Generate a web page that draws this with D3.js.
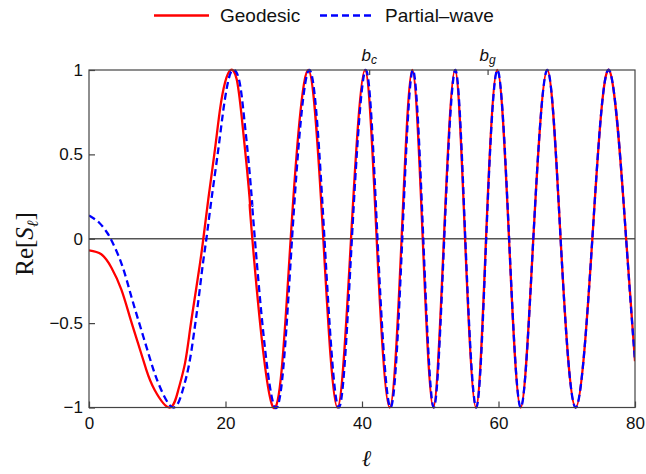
<!DOCTYPE html>
<html><head><meta charset="utf-8">
<script src="https://cdn.jsdelivr.net/npm/d3@7"></script>
<style>body{margin:0;background:#fff}</style>
</head><body>
<svg id="c" width="646" height="474"></svg>
<script>
// Geodesic (red): ℓ and Re[S_ℓ]
const geoL = [0,1.8,3.27,4.73,5.96,7.18,8.4,9.62,11.8,13.09,14.07,14.8,15.53,16.27,16.75,17.48,18.46,19.2,19.93,20.76,21.64,22.36,23.1,23.6,23.93,27.0,29.55,32.13,34.33,36.4,38.39,40.44,42.15,44.05,45.8,47.37,48.9,50.45,52.0,53.63,55.1,56.7,58.17,59.82,61.54,63.25,65.1,67.15,69.1,71.3,73.75,76.2,78.7,80];
const geoV = [-0.069,-0.092,-0.17,-0.3,-0.46,-0.619,-0.777,-0.896,-1,-0.895,-0.737,-0.539,-0.342,-0.144,0,0.235,0.531,0.768,0.926,1,0.945,0.728,0.433,0.196,0,-1,0,1,0,-1,0,1,0,-1,0,1,0,-1,0,1,0,-1,0,1,0,-1,0,1,0,-1,0,1,0,-0.726];
// Partial-wave (blue dashed)
const pwL = [0,1.5,2.53,3.17,4.73,6.2,7.66,9.13,10.35,12.3,13.75,14.7,15.45,16.1,16.7,17.2,17.95,18.95,19.7,20.35,21.04,21.97,22.7,23.44,23.93,24.3,27.25,29.75,32.3,34.5,36.6,38.52,40.56,42.27,44.18,45.9,47.46,48.98,50.52,52.05,53.68,55.14,56.74,58.2,59.84,61.56,63.26,65.1,67.15,69.1,71.3,73.75,76.2,78.7,80];
const pwV = [0.138,0.095,0.043,0,-0.144,-0.342,-0.54,-0.736,-0.874,-1,-0.895,-0.737,-0.539,-0.342,-0.144,0,0.235,0.531,0.768,0.926,1,0.945,0.728,0.433,0.196,0,-1,0,1,0,-1,0,1,0,-1,0,1,0,-1,0,1,0,-1,0,1,0,-1,0,1,0,-1,0,1,0,-0.726];
const xTicks = [0,20,40,60,80];
const yTicks = [-1,-0.5,0,0.5,1];
const topTicks = [41.05, 58.4];
const topLabels = [["b","c"],["b","g"]];
const seriesNames = ["Geodesic","Partial\u2013wave"];

const svg = d3.select("#c");
const L=89, R=635, T=70, B=407.5;
const x = d3.scaleLinear().domain([0,80]).range([L,R]);
const y = d3.scaleLinear().domain([-1,1]).range([B,T]);
const axisCol = "#444";

svg.append("defs").append("clipPath").attr("id","clip")
  .append("rect").attr("x",L).attr("y",T-2).attr("width",R-L).attr("height",B-T+4);

// zero line
svg.append("line").attr("x1",L).attr("x2",R).attr("y1",y(0)).attr("y2",y(0))
  .attr("stroke","#555").attr("stroke-width",1.3);

const line = d3.line().x(d=>x(d[0])).y(d=>y(d[1])).curve(d3.curveNatural);
const g = svg.append("g").attr("clip-path","url(#clip)");
g.append("path").datum(d3.zip(geoL,geoV)).attr("d",line)
  .attr("fill","none").attr("stroke","#f00").attr("stroke-width",2.3);
g.append("path").datum(d3.zip(pwL,pwV)).attr("d",line)
  .attr("fill","none").attr("stroke","#00f").attr("stroke-width",2.3)
  .attr("stroke-dasharray","7,4");

// frame
svg.append("rect").attr("x",L).attr("y",T).attr("width",R-L).attr("height",B-T)
  .attr("fill","none").attr("stroke",axisCol).attr("stroke-width",1.2);

const tickFont = "'Liberation Sans', Arial, sans-serif";
const xa = svg.append("g").attr("transform",`translate(0,${B})`)
  .call(d3.axisBottom(x).tickValues(xTicks).tickSizeInner(-6).tickSizeOuter(0).tickPadding(9).tickFormat(d3.format("d")));
const ya = svg.append("g").attr("transform",`translate(${L},0)`)
  .call(d3.axisLeft(y).tickValues(yTicks).tickSizeInner(-6).tickSizeOuter(0).tickPadding(6)
    .tickFormat(d=> d===0?"0":(d===1?"1":(d===-1?"\u22121":(d<0?"\u22120.5":"0.5")))));
const ta = svg.append("g").attr("transform",`translate(0,${T})`)
  .call(d3.axisTop(x).tickValues(topTicks).tickSizeInner(-5).tickSizeOuter(0).tickFormat(""));
[xa,ya,ta].forEach(a=>{
  a.select(".domain").remove();
  a.selectAll(".tick line").attr("stroke",axisCol).attr("stroke-width",1.2);
  a.selectAll(".tick text").attr("font-family",tickFont).attr("font-size",17).attr("fill","#111");
});

topTicks.forEach((t,i)=>{
  const tx = svg.append("text").attr("x",x(t)).attr("y",T-9).attr("text-anchor","middle")
    .attr("font-family",tickFont).attr("font-style","italic").attr("font-size",17).attr("fill","#111");
  tx.append("tspan").text(topLabels[i][0]);
  tx.append("tspan").attr("font-size",12).attr("dy",3).text(topLabels[i][1]);
});

const lg = svg.append("g");
lg.append("line").attr("x1",154).attr("x2",209).attr("y1",15.5).attr("y2",15.5)
  .attr("stroke","#f00").attr("stroke-width",2.3);
lg.append("text").attr("x",220).attr("y",22).text(seriesNames[0])
  .attr("font-family",tickFont).attr("font-size",19).attr("fill","#111");
lg.append("line").attr("x1",320).attr("x2",374).attr("y1",15.5).attr("y2",15.5)
  .attr("stroke","#00f").attr("stroke-width",2.3).attr("stroke-dasharray","7,4");
lg.append("text").attr("x",385).attr("y",22).text(seriesNames[1])
  .attr("font-family",tickFont).attr("font-size",19).attr("fill","#111");

svg.append("text").attr("x",367).attr("y",466).attr("text-anchor","middle")
  .attr("font-family","'DejaVu Serif', 'Liberation Serif', serif").attr("font-style","italic")
  .attr("font-weight","bold").attr("font-size",23).attr("fill","#111").text("\u2113");
const yl = svg.append("text").attr("transform","translate(33,244) rotate(-90)")
  .attr("text-anchor","middle").attr("font-family","'Liberation Serif', 'Times New Roman', serif")
  .attr("font-size",25).attr("fill","#111");
yl.append("tspan").text("Re[");
yl.append("tspan").attr("font-style","italic").text("S");
yl.append("tspan").attr("font-style","italic").attr("font-size",16).attr("dy",5).text("\u2113");
yl.append("tspan").attr("dy",-5).text("]");
</script>
</body></html>
